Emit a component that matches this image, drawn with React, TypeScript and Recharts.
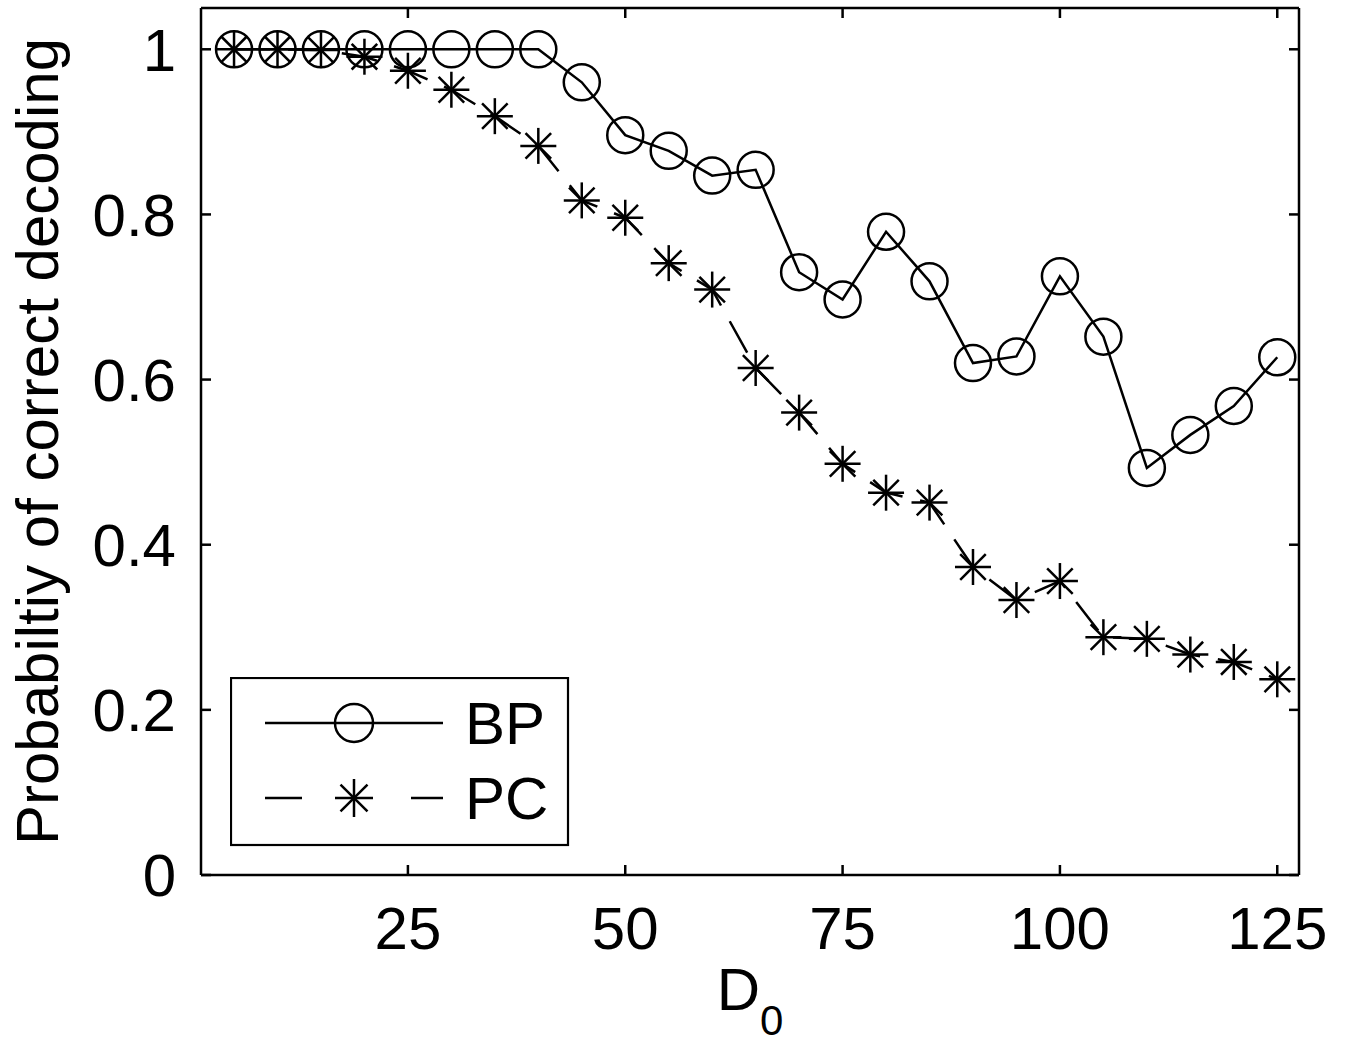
import React from 'react';
import { LineChart, Line, XAxis, YAxis, Legend } from 'recharts';

// D0 values on the x axis
const dValues = [5, 10, 15, 20, 25, 30, 35, 40, 45, 50, 55, 60, 65, 70, 75, 80, 85, 90, 95, 100, 105, 110, 115, 120, 125];
// probability of correct decoding, BP
const bpValues = [1, 1, 1, 1, 1, 1, 1, 1, 0.96, 0.896, 0.877, 0.847, 0.854, 0.73, 0.697, 0.779, 0.719, 0.62, 0.628, 0.725, 0.652, 0.493, 0.533, 0.568, 0.627];
// probability of correct decoding, PC
const pcValues = [1, 1, 0.999, 0.991, 0.974, 0.951, 0.919, 0.883, 0.817, 0.796, 0.741, 0.709, 0.614, 0.56, 0.498, 0.463, 0.451, 0.373, 0.333, 0.356, 0.288, 0.286, 0.267, 0.258, 0.237];
const seriesNames = ['BP', 'PC'];
const xTicks = [25, 50, 75, 100, 125];
const yTicks = [0, 0.2, 0.4, 0.6, 0.8, 1];

const data = dValues.map((d, i) => ({ d, bp: bpValues[i], pc: pcValues[i] }));

const FONT = '"Liberation Sans", Arial, sans-serif';
const INK = '#000';
const LW = 2.5;

const Circle = ({ cx, cy, r = 18 }: any) => (
  <circle cx={cx} cy={cy} r={r} fill="none" stroke={INK} strokeWidth={LW} />
);

const Star = ({ cx, cy, r = 18 }: any) => {
  const d = r * 0.71;
  return (
    <g stroke={INK} strokeWidth={LW}>
      <line x1={cx - r} y1={cy} x2={cx + r} y2={cy} />
      <line x1={cx} y1={cy - r} x2={cx} y2={cy + r} />
      <line x1={cx - d} y1={cy - d} x2={cx + d} y2={cy + d} />
      <line x1={cx - d} y1={cy + d} x2={cx + d} y2={cy - d} />
    </g>
  );
};

const LegendBox = ({ payload }: any) => {
  const items = payload && payload.length ? payload : seriesNames.map((n) => ({ value: n }));
  return (
    <svg width={340} height={170} style={{ display: 'block' }}>
      <rect x={1} y={1} width={337} height={167} fill="#fff" stroke={INK} strokeWidth={2.2} />
      {items.map((it: any, i: number) => {
        const y = 46 + i * 75;
        const dashed = it.value === 'PC';
        return (
          <g key={it.value}>
            {dashed ? (
              <>
                <line x1={35} y1={y} x2={72} y2={y} stroke={INK} strokeWidth={LW} />
                <line x1={181} y1={y} x2={213} y2={y} stroke={INK} strokeWidth={LW} />
                <Star cx={124} cy={y} r={19} />
              </>
            ) : (
              <>
                <line x1={35} y1={y} x2={213} y2={y} stroke={INK} strokeWidth={LW} />
                <Circle cx={124} cy={y} r={19} />
              </>
            )}
            <text x={235} y={y + 21} fontFamily={FONT} fontSize={60} fill={INK}>
              {it.value}
            </text>
          </g>
        );
      })}
    </svg>
  );
};

const App: React.FC = () => {
  const tickStyle = { fontFamily: FONT, fontSize: 60, fill: INK };
  return (
    <div style={{ position: 'absolute', left: 0, top: 0, width: 1349, height: 1046, background: '#fff' }}>
      <LineChart width={1349} height={1046} data={data} margin={{ top: 7, right: 49, bottom: 0, left: 0 }}>
        <XAxis
          dataKey="d"
          type="number"
          domain={[1.2, 127.5]}
          allowDataOverflow
          ticks={xTicks}
          height={171}
          tickSize={-10}
          tickMargin={41}
          stroke={INK}
          strokeWidth={LW}
          tick={tickStyle}
          label={{
            content: (p: any) => {
              const vb = p.viewBox || { x: 201, width: 1098 };
              return (
                <text x={vb.x + vb.width / 2} y={1010} textAnchor="middle" fontFamily={FONT} fontSize={60} fill={INK}>
                  D<tspan dy={25} fontSize={42}>0</tspan>
                </text>
              );
            },
          }}
        />
        <XAxis
          xAxisId="top"
          orientation="top"
          dataKey="d"
          type="number"
          domain={[1.2, 127.5]}
          allowDataOverflow
          ticks={xTicks}
          height={1}
          tickSize={-10}
          tickFormatter={() => ''}
          stroke={INK}
          strokeWidth={LW}
        />
        <YAxis
          type="number"
          domain={[0, 1.05]}
          allowDataOverflow
          ticks={yTicks}
          width={201}
          tickSize={-10}
          tickMargin={35}
          stroke={INK}
          strokeWidth={LW}
          tick={tickStyle}
          tickFormatter={(v: number) => String(v)}
          label={{
            content: (p: any) => {
              const vb = p.viewBox || { y: 8, height: 867 };
              const cy = vb.y + vb.height / 2;
              return (
                <text
                  x={58}
                  y={cy}
                  textAnchor="middle"
                  transform={`rotate(-90, 58, ${cy})`}
                  fontFamily={FONT}
                  fontSize={60}
                  fill={INK}
                >
                  Probabiltiy of correct decoding
                </text>
              );
            },
          }}
        />
        <YAxis
          yAxisId="right"
          orientation="right"
          type="number"
          domain={[0, 1.05]}
          allowDataOverflow
          ticks={yTicks}
          width={1}
          tickSize={-10}
          tickFormatter={() => ''}
          stroke={INK}
          strokeWidth={LW}
        />
        <Legend
          layout="horizontal"
          verticalAlign="middle"
          align="center"
          content={LegendBox}
          wrapperStyle={{ position: 'absolute', left: 230, top: 677, width: 340, height: 170 }}
        />
        <Line
          dataKey="bp"
          name={seriesNames[0]}
          stroke={INK}
          strokeWidth={LW}
          isAnimationActive={false}
          dot={(p: any) => <Circle key={`bp-${p.index}`} cx={p.cx} cy={p.cy} />}
          activeDot={false}
        />
        <Line
          dataKey="pc"
          name={seriesNames[1]}
          stroke={INK}
          strokeWidth={LW}
          strokeDasharray="36 18"
          isAnimationActive={false}
          dot={(p: any) => <Star key={`pc-${p.index}`} cx={p.cx} cy={p.cy} />}
          activeDot={false}
        />
      </LineChart>
    </div>
  );
};

export default App;
